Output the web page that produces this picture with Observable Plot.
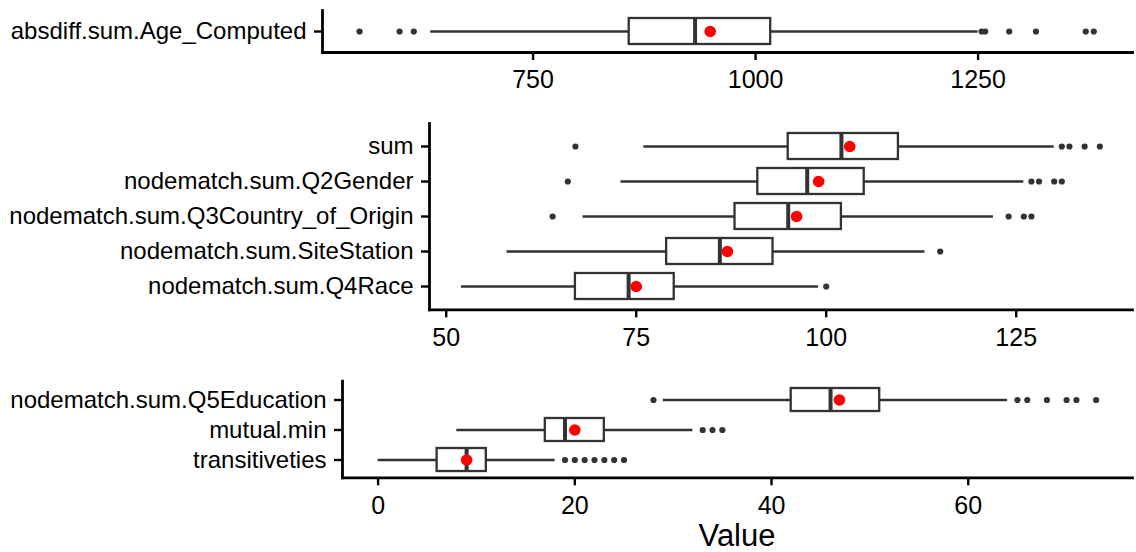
<!DOCTYPE html>
<html>
<head>
<meta charset="utf-8">
<script src="https://cdn.jsdelivr.net/npm/d3@7"></script>
<script src="https://cdn.jsdelivr.net/npm/@observablehq/plot@0.6"></script>
<style>
  html, body { margin: 0; padding: 0; background: #fff; }
  #wrap { position: relative; width: 1136px; height: 552px; font-family: "Liberation Sans", Arial, sans-serif; }
  #wrap > div.panel { position: absolute; left: 0; }
  #xlabel { position: absolute; left: 342px; width: 790px; text-align: center; top: 520px; font-size: 31px; line-height: 31px; color: #000; }
</style>
</head>
<body>
<div id="wrap">
  <div class="panel" id="p1" style="top:0px"></div>
  <div class="panel" id="p2" style="top:100px"></div>
  <div class="panel" id="p3" style="top:360px"></div>
  <div id="xlabel">Value</div>
</div>
<script>
// ---- Panel 1 ----
const p1Cats = ["absdiff.sum.Age_Computed"];
const p1Lo   = [635];
const p1Q1   = [858];
const p1Med  = [932];
const p1Q3   = [1017];
const p1Hi   = [1250];
const p1Mean = [949];
const p1Out  = [[555, 600, 616, 1254, 1258, 1285, 1315, 1371, 1380]];
const p1Ticks = [750, 1000, 1250];
const p1Domain = [513.4, 1423.5];

// ---- Panel 2 ----
const p2Cats = ["sum", "nodematch.sum.Q2Gender", "nodematch.sum.Q3Country_of_Origin", "nodematch.sum.SiteStation", "nodematch.sum.Q4Race"];
const p2Lo   = [76, 73, 68, 58, 52];
const p2Q1   = [95, 91, 88, 79, 67];
const p2Med  = [102, 97.5, 95, 86, 74];
const p2Q3   = [109.5, 105, 102, 93, 80];
const p2Hi   = [130, 126, 122, 113, 99];
const p2Mean = [103.1, 99, 96.1, 87, 75];
const p2Out  = [[67, 131, 132, 134, 136], [66, 127, 128, 130, 131], [64, 124, 126, 127], [115], [100]];
const p2Ticks = [50, 75, 100, 125];
const p2Domain = [47.8, 140.3];

// ---- Panel 3 ----
const p3Cats = ["nodematch.sum.Q5Education", "mutual.min", "transitiveties"];
const p3Lo   = [29, 8, 0];
const p3Q1   = [42, 17, 6];
const p3Med  = [46, 19, 9];
const p3Q3   = [51, 23, 11];
const p3Hi   = [64, 32, 18];
const p3Mean = [46.9, 20, 9];
const p3Out  = [[28, 65, 66, 68, 70, 71, 73], [33, 34, 35], [19, 20, 21, 22, 23, 24, 25]];
const p3Ticks = [0, 20, 40, 60];
const p3Domain = [-3.62, 76.7];

const GREY = "#333333";

function panel(cats, lo, q1, med, q3, hi, mean, outs, ticks, domain, opts) {
  const stats = cats.map((c, i) => ({cat: c, lo: lo[i], q1: q1[i], med: med[i], q3: q3[i], hi: hi[i], mean: mean[i]}));
  const outliers = cats.flatMap((c, i) => outs[i].map(v => ({cat: c, v})));
  return Plot.plot({
    width: 1136,
    height: opts.height,
    marginTop: opts.marginTop,
    marginBottom: opts.marginBottom,
    marginLeft: opts.marginLeft,
    marginRight: 4,
    style: {fontFamily: "'Liberation Sans', Arial, sans-serif", fontSize: "25px", color: "#000", background: "#fff"},
    x: {domain, label: null},
    y: {type: "band", domain: cats, paddingInner: 0.25, paddingOuter: 0.225, label: null},
    marks: [
      Plot.ruleY(stats, {y: "cat", x1: "lo", x2: "hi", stroke: GREY, strokeWidth: 2.3}),
      Plot.barX(stats, {y: "cat", x1: "q1", x2: "q3", fill: "white", stroke: GREY, strokeWidth: 2.3}),
      Plot.tickX(stats, {y: "cat", x: "med", stroke: GREY, strokeWidth: 4}),
      Plot.dot(outliers, {y: "cat", x: "v", r: 3.1, fill: GREY, stroke: "none"}),
      Plot.dot(stats, {y: "cat", x: "mean", r: 5.8, fill: "red", stroke: "none"}),
      Plot.axisX({ticks, tickFormat: d3.format("d"), tickSize: 8, tickPadding: 10, fontSize: 25, stroke: "#000", strokeWidth: 2.4, label: null}),
      Plot.axisY({tickSize: 8, tickPadding: 8, fontSize: 24, stroke: "#000", strokeWidth: 2.4, label: null}),
      Plot.frame({anchor: "left", stroke: "#000", strokeWidth: 2.8}),
      Plot.frame({anchor: "bottom", stroke: "#000", strokeWidth: 2.8})
    ]
  });
}

document.getElementById("p1").appendChild(panel(p1Cats, p1Lo, p1Q1, p1Med, p1Q3, p1Hi, p1Mean, p1Out, p1Ticks, p1Domain,
  {height: 100, marginTop: 10, marginBottom: 48, marginLeft: 322}));
document.getElementById("p2").appendChild(panel(p2Cats, p2Lo, p2Q1, p2Med, p2Q3, p2Hi, p2Mean, p2Out, p2Ticks, p2Domain,
  {height: 260, marginTop: 23, marginBottom: 50.7, marginLeft: 429}));
document.getElementById("p3").appendChild(panel(p3Cats, p3Lo, p3Q1, p3Med, p3Q3, p3Hi, p3Mean, p3Out, p3Ticks, p3Domain,
  {height: 192, marginTop: 20.7, marginBottom: 74.7, marginLeft: 342}));
</script>
</body>
</html>
